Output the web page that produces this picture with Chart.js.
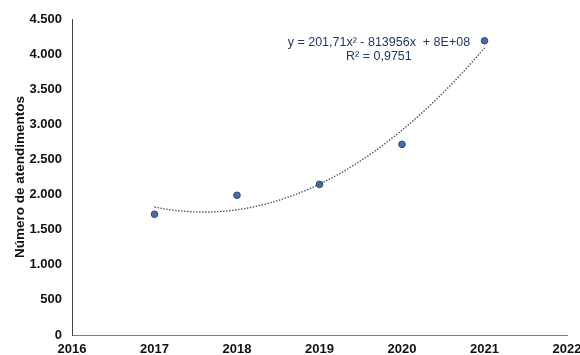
<!DOCTYPE html>
<html>
<head>
<meta charset="utf-8">
<script src="https://cdn.jsdelivr.net/npm/chart.js@4.4.1/dist/chart.umd.min.js"></script>
<style>
  html, body { margin: 0; padding: 0; background: #fff; }
  #wrap { width: 580px; height: 355px; }
</style>
</head>
<body>
<div id="wrap"><canvas id="c"></canvas></div>
<script>
// ===== Datos =====
const anos = [2017, 2018, 2019, 2020, 2021];
const atendimentos = [1720, 1990, 2145, 2715, 4190];
const yTicks = [0, 500, 1000, 1500, 2000, 2500, 3000, 3500, 4000, 4500];
const xTicks = [2016, 2017, 2018, 2019, 2020, 2021, 2022];
const eqLinha1 = 'y = 201,71x² - 813956x  + 8E+08';
const eqLinha2 = 'R² = 0,9751';

// ===== Ajuste polinomial de grau 2 (mínimos quadrados, x centrado) =====
function fitQuad(xs, ys) {
    const n = xs.length, mx = xs.reduce((a, b) => a + b, 0) / n;
    let S = [0, 0, 0, 0, 0], T = [0, 0, 0];
    xs.forEach((x0, i) => {
        const x = x0 - mx;
        for (let k = 0; k < 5; k++) S[k] += Math.pow(x, k);
        for (let k = 0; k < 3; k++) T[k] += Math.pow(x, k) * ys[i];
    });
    const M = [[S[0], S[1], S[2], T[0]], [S[1], S[2], S[3], T[1]], [S[2], S[3], S[4], T[2]]];
    for (let i = 0; i < 3; i++) {
        for (let j = i + 1; j < 3; j++) {
            const f = M[j][i] / M[i][i];
            for (let k = i; k < 4; k++) M[j][k] -= f * M[i][k];
        }
    }
    const c = [0, 0, 0];
    for (let i = 2; i >= 0; i--) {
        let s = M[i][3];
        for (let k = i + 1; k < 3; k++) s -= M[i][k] * c[k];
        c[i] = s / M[i][i];
    }
    return x => { const t = x - mx; return c[0] + c[1] * t + c[2] * t * t; };
}
const tendencia = fitQuad(anos, atendimentos);

const FONT = "'Liberation Sans', Arial, sans-serif";
Chart.defaults.font.family = FONT;
Chart.defaults.animation = false;

// Linha de tendência pontilhada + equação
const trendPlugin = {
    id: 'trend',
    afterDatasetsDraw(chart) {
        const { ctx, scales: { x, y } } = chart;
        const x0 = anos[0], x1 = anos[anos.length - 1];
        ctx.save();
        ctx.beginPath();
        ctx.strokeStyle = '#3f4f6b';
        ctx.lineWidth = 1.4;
        ctx.setLineDash([1.4, 1.6]);
        const steps = 120;
        for (let i = 0; i <= steps; i++) {
            const xv = x0 + (x1 - x0) * i / steps;
            const px = x.getPixelForValue(xv), py = y.getPixelForValue(tendencia(xv));
            if (i === 0) ctx.moveTo(px, py); else ctx.lineTo(px, py);
        }
        ctx.stroke();
        ctx.setLineDash([]);
        ctx.fillStyle = '#1f3864';
        ctx.font = '12.5px ' + FONT;
        ctx.textAlign = 'center';
        ctx.textBaseline = 'middle';
        const cx = x.getPixelForValue(2019.72);
        ctx.fillText(eqLinha1, cx, y.getPixelForValue(4170));
        ctx.fillText(eqLinha2, cx, y.getPixelForValue(3960));
        ctx.restore();
    }
};

new Chart(document.getElementById('c'), {
    type: 'scatter',
    data: {
        datasets: [{
            label: 'Atendimentos',
            data: anos.map((a, i) => ({ x: a, y: atendimentos[i] })),
            backgroundColor: '#4a6fa5',
            borderColor: '#2c4570',
            borderWidth: 1,
            pointRadius: 3.3
        }]
    },
    options: {
        responsive: true,
        maintainAspectRatio: false,
        layout: { padding: { top: 19, right: 13, left: 0, bottom: 0 } },
        plugins: { legend: { display: false }, tooltip: { enabled: false } },
        scales: {
            x: {
                type: 'linear', min: 2016, max: 2022,
                afterBuildTicks: s => { s.ticks = xTicks.map(v => ({ value: v })); },
                grid: { display: false, drawTicks: false },
                border: { color: '#7f7f7f', width: 1 },
                ticks: { color: '#111', font: { size: 13, weight: 'bold' }, padding: 7, callback: v => String(v) },
                afterFit: s => { s.height = 20; s.paddingRight = 0; s.paddingLeft = 0; }
            },
            y: {
                min: 0, max: 4500,
                afterBuildTicks: s => { s.ticks = yTicks.map(v => ({ value: v })); },
                grid: { display: false, drawTicks: true, tickLength: 4, tickColor: '#555' },
                border: { color: '#444', width: 1 },
                ticks: {
                    color: '#111', font: { size: 13, weight: 'bold' }, padding: 6,
                    callback: v => v.toLocaleString('de-DE')
                },
                title: {
                    display: true, text: 'Número de atendimentos', color: '#111',
                    font: { size: 13.5, weight: 'bold' }, padding: { top: 12, bottom: 0 }
                },
                afterFit: s => { s.width = 72; s.paddingTop = 0; s.paddingBottom = 0; }
            }
        }
    },
    plugins: [trendPlugin]
});
</script>
</body>
</html>
